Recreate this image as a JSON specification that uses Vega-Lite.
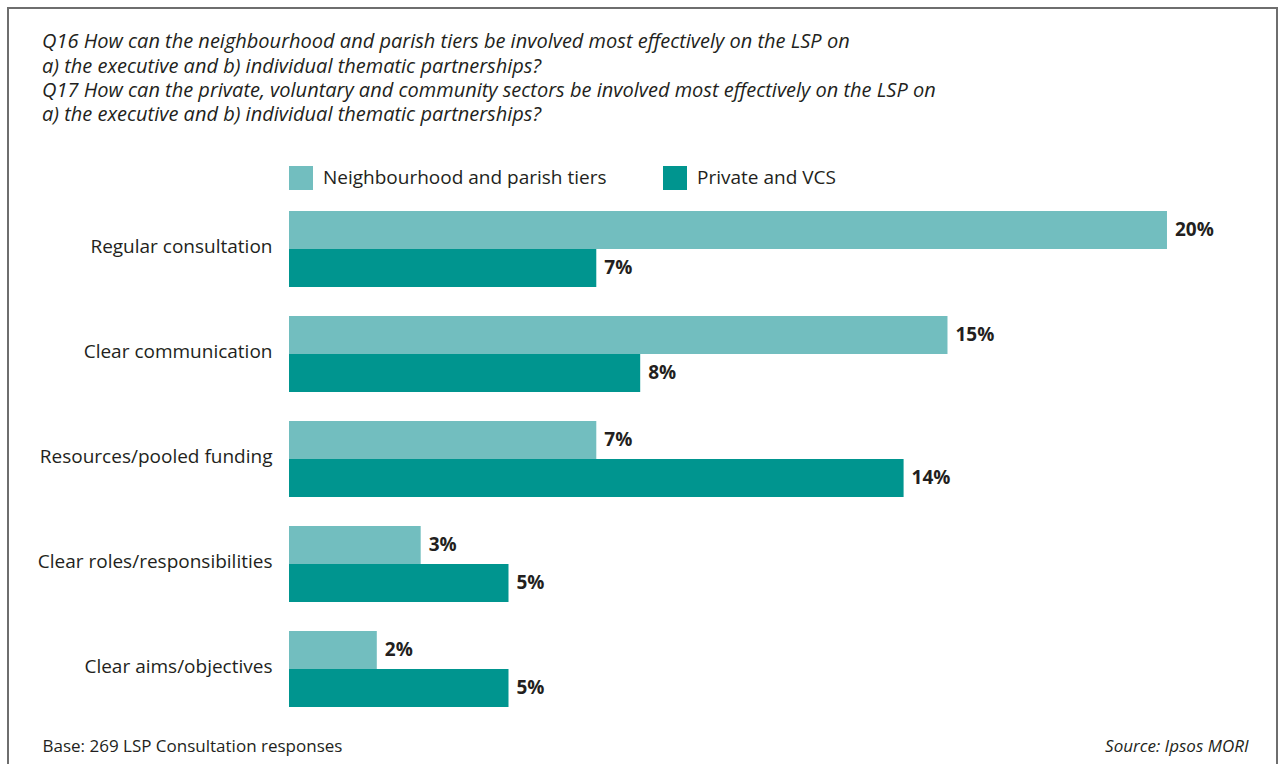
{
  "$schema": "https://vega.github.io/schema/vega-lite/v6.json",
  "width": 1269,
  "height": 758,
  "autosize": {"type": "none"},
  "padding": {"left": 8, "top": 8, "right": 4, "bottom": 0},
  "background": "white",
  "config": {
    "view": {"stroke": "#6e6e6e", "strokeWidth": 2},
    "font": "Open Sans",
    "axis": {"grid": false}
  },
  "title": {
    "text": [
      "Q16 How can the neighbourhood and parish tiers be involved most effectively on the LSP on",
      "a) the executive and b) individual thematic partnerships?",
      "Q17 How can the private, voluntary and community sectors be involved most effectively on the LSP on",
      "a) the executive and b) individual thematic partnerships?"
    ],
    "anchor": "start",
    "frame": "group",
    "orient": "top",
    "offset": -117,
    "dx": 34,
    "fontSize": 20,
    "fontStyle": "italic",
    "fontWeight": "normal",
    "lineHeight": 24.2,
    "color": "#231F20",
    "font": "Open Sans"
  },
  "data": {
    "values": [
      {"category": "Regular consultation", "series": "Neighbourhood and parish tiers", "value": 20},
      {"category": "Regular consultation", "series": "Private and VCS", "value": 7},
      {"category": "Clear communication", "series": "Neighbourhood and parish tiers", "value": 15},
      {"category": "Clear communication", "series": "Private and VCS", "value": 8},
      {"category": "Resources/pooled funding", "series": "Neighbourhood and parish tiers", "value": 7},
      {"category": "Resources/pooled funding", "series": "Private and VCS", "value": 14},
      {"category": "Clear roles/responsibilities", "series": "Neighbourhood and parish tiers", "value": 3},
      {"category": "Clear roles/responsibilities", "series": "Private and VCS", "value": 5},
      {"category": "Clear aims/objectives", "series": "Neighbourhood and parish tiers", "value": 2},
      {"category": "Clear aims/objectives", "series": "Private and VCS", "value": 5}
    ]
  },
  "transform": [{"calculate": "datum.value + '%'", "as": "label"}],
  "encoding": {
    "yOffset": {
      "field": "series",
      "type": "nominal",
      "sort": ["Neighbourhood and parish tiers", "Private and VCS"],
      "scale": {"paddingInner": 0, "paddingOuter": 0}
    },
    "x": {
      "field": "value",
      "type": "quantitative",
      "stack": null,
      "scale": {"domain": [-6.401, 22.506], "nice": false, "zero": true},
      "axis": {
        "orient": "bottom",
        "labels": false,
        "ticks": false,
        "domain": false,
        "grid": false,
        "title": "Base: 269 LSP Consultation responses",
        "titleX": 34,
        "titleY": -20,
        "titleAlign": "left",
        "titleAnchor": "start",
        "titleBaseline": "middle",
        "titleFontSize": 17,
        "titleFontWeight": "normal",
        "titleColor": "#231F20",
        "titleFont": "Open Sans"
      }
    }
  },
  "layer": [
    {
      "mark": {"type": "bar"},
      "encoding": {
        "y": {
          "field": "category",
          "type": "nominal",
          "sort": ["Regular consultation", "Clear communication", "Resources/pooled funding", "Clear roles/responsibilities", "Clear aims/objectives"],
          "scale": {"paddingInner": 0.276, "paddingOuter": 0, "range": [203, 699]},
          "axis": {
            "orient": "left",
            "offset": -281,
            "title": null,
            "domain": false,
            "ticks": false,
            "tickSize": 0,
            "labelPadding": 17,
            "labelOffset": -2,
            "labelFontSize": 19,
            "labelColor": "#231F20",
            "labelFont": "Open Sans",
            "labelLimit": 400
          }
        },
        "color": {
          "field": "series",
          "type": "nominal",
          "scale": {"domain": ["Neighbourhood and parish tiers", "Private and VCS"], "range": ["#72BEBF", "#00958F"]},
          "legend": {
            "orient": "none",
            "legendX": 281,
            "legendY": 158,
            "direction": "horizontal",
            "title": null,
            "symbolType": "square",
            "symbolSize": 576,
            "symbolStrokeWidth": 0,
            "labelFontSize": 19,
            "labelColor": "#231F20",
            "labelFont": "Open Sans",
            "labelOffset": 10,
            "labelLimit": 500,
            "columnPadding": 56
          }
        }
      }
    },
    {
      "mark": {"type": "text", "align": "left", "baseline": "middle", "dx": 8, "fontWeight": "bold", "fontSize": 19, "color": "#231F20", "font": "Open Sans"},
      "encoding": {
        "y": {
          "field": "category",
          "type": "nominal",
          "sort": ["Regular consultation", "Clear communication", "Resources/pooled funding", "Clear roles/responsibilities", "Clear aims/objectives"],
          "scale": {"paddingInner": 0.276, "paddingOuter": 0, "range": [203, 699]},
          "axis": {
            "orient": "right",
            "domain": false,
            "ticks": false,
            "labels": false,
            "grid": false,
            "title": "Source: Ipsos MORI",
            "titleAngle": 0,
            "titleX": -29,
            "titleY": 738,
            "titleAlign": "right",
            "titleBaseline": "middle",
            "titleFontStyle": "italic",
            "titleFontSize": 17,
            "titleFontWeight": "normal",
            "titleColor": "#231F20",
            "titleFont": "Open Sans"
          }
        },
        "text": {"field": "label"}
      }
    }
  ],
  "resolve": {"axis": {"y": "independent"}}
}
